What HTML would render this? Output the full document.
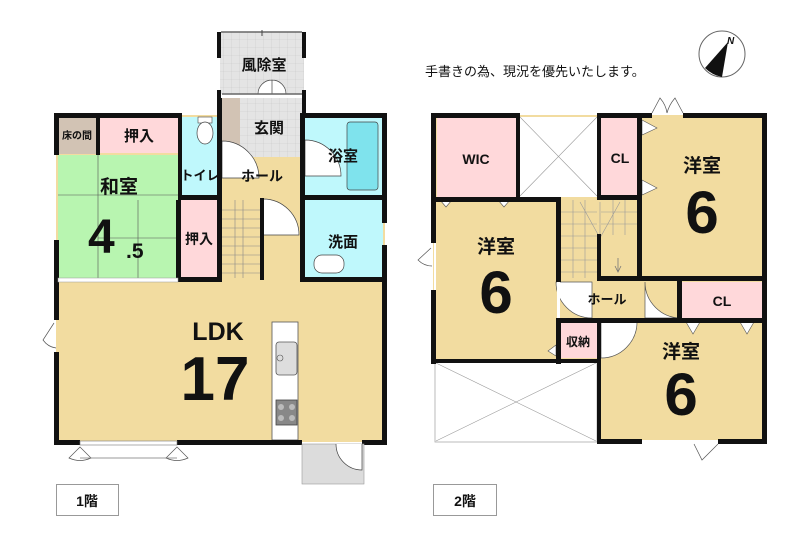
<!DOCTYPE html>
<html><head><meta charset="utf-8"><style>
html,body{margin:0;padding:0;background:#fff;}
svg{display:block;}
text{font-family:"Liberation Sans","Noto Sans CJK JP",sans-serif;font-weight:bold;fill:#111;}
</style></head><body>
<svg width="800" height="540" viewBox="0 0 800 540" xmlns="http://www.w3.org/2000/svg">
<defs>
<pattern id="grid" width="8" height="8" patternUnits="userSpaceOnUse">
<rect width="8" height="8" fill="#e4e4e4"/><path d="M8 0V8M0 8H8" stroke="#c8c8c8" stroke-width="0.6"/>
</pattern>
</defs>
<!-- ===== 1F ===== -->
<rect x="56" y="115" width="329" height="327" fill="#f2dca0"/>
<rect x="58" y="117" width="40" height="37" fill="#d2c3b4"/>
<rect x="100" y="117" width="78" height="36" fill="#ffd8da"/>
<rect x="58" y="155" width="120" height="124" fill="#b8f5b0"/>
<path d="M98 155V278M138 200V278M58 195H178M98 238H178" stroke="#555" stroke-width="0.6" fill="none"/>
<rect x="180" y="200" width="38" height="78" fill="#ffd8da"/>
<rect x="182" y="117" width="36" height="78" fill="#bff8fc"/>
<rect x="198" y="117" width="14" height="6" fill="#fff" stroke="#444" stroke-width="0.6"/>
<ellipse cx="205" cy="133" rx="8" ry="11" fill="#fff" stroke="#444" stroke-width="0.7"/>
<rect x="220" y="32" width="84" height="62" fill="url(#grid)"/>
<rect x="222" y="98" width="80" height="59" fill="url(#grid)"/>
<rect x="222" y="98" width="18" height="59" fill="#d2c3b4"/>
<rect x="222" y="157" width="80" height="40" fill="#f2dca0"/>
<path d="M222 141 A37 37 0 0 1 259 178 L222 178Z" fill="#fff" stroke="#444" stroke-width="0.7"/>
<path d="M272 94 V80 A14 14 0 0 0 258 94 M272 94 V80 A14 14 0 0 1 286 94" fill="#fff" stroke="#444" stroke-width="0.7"/>
<rect x="305" y="117" width="78" height="78" fill="#bff8fc"/>
<rect x="347" y="122" width="31" height="68" rx="3" fill="#7fe3ed" stroke="#444" stroke-width="0.7"/>
<path d="M305 140 A36 36 0 0 1 341 176 L305 176Z" fill="#fff" stroke="#444" stroke-width="0.7"/>
<rect x="305" y="200" width="78" height="78" fill="#bff8fc"/>
<rect x="314" y="255" width="30" height="18" rx="8" fill="#fff" stroke="#444" stroke-width="0.7"/>
<path d="M222 210H260M222 219H260M222 228H260M222 237H260M222 246H260M222 255H260M222 264H260M222 273H260M235 200V278M243 200V278" stroke="#888" stroke-width="0.6"/>
<path d="M263 199 A36 36 0 0 1 299 235 L263 235Z" fill="#fff" stroke="#444" stroke-width="0.7"/>
<rect x="272" y="322" width="26" height="118" fill="#fff" stroke="#555" stroke-width="0.8"/>
<rect x="276" y="342" width="21" height="33" rx="3" fill="#ddd" stroke="#555" stroke-width="0.8"/>
<circle cx="280" cy="358" r="3" fill="none" stroke="#555" stroke-width="0.6"/>
<rect x="276" y="400" width="21" height="25" fill="#888" stroke="#444" stroke-width="0.8"/>
<circle cx="281" cy="407" r="3" fill="#bbb"/><circle cx="292" cy="407" r="3" fill="#bbb"/><circle cx="281" cy="418" r="3" fill="#bbb"/><circle cx="292" cy="418" r="3" fill="#bbb"/>
<g fill="#111">
<rect x="56" y="113" width="126" height="5"/>
<rect x="300" y="113" width="87" height="5"/>
<rect x="54" y="113" width="5" height="42"/>
<rect x="54" y="240" width="5" height="80"/>
<rect x="54" y="352" width="5" height="92"/>
<rect x="382" y="113" width="5" height="110"/>
<rect x="382" y="245" width="5" height="199"/>
<rect x="54" y="440" width="26" height="5"/>
<rect x="177" y="440" width="125" height="5"/>
<rect x="362" y="440" width="25" height="5"/>
<rect x="96" y="115" width="4" height="40"/>
<rect x="178" y="113" width="4" height="87"/>
<rect x="178" y="195" width="44" height="5"/>
<rect x="176" y="200" width="5" height="80"/>
<rect x="217" y="98" width="5" height="182"/>
<rect x="217" y="32" width="4" height="26"/>
<rect x="217" y="90" width="4" height="10"/>
<rect x="302" y="32" width="4" height="26"/>
<rect x="302" y="90" width="4" height="27"/>
<rect x="300" y="113" width="5" height="84"/>
<rect x="300" y="195" width="87" height="5"/>
<rect x="300" y="195" width="5" height="85"/>
<rect x="260" y="198" width="4" height="82"/>
<rect x="217" y="195" width="5" height="85"/>
<rect x="176" y="277" width="46" height="5"/>
<rect x="300" y="277" width="87" height="5"/>
</g>
<rect x="58" y="278" width="120" height="4" fill="#fff" stroke="#999" stroke-width="0.5"/>
<path d="M222 94H302" stroke="#666" stroke-width="1.5"/>
<path d="M221 32H302" stroke="#666" stroke-width="1.5"/>
<path d="M262 30V36" stroke="#444"/>
<rect x="80" y="441" width="97" height="4" fill="#fff" stroke="#777" stroke-width="0.6"/>
<path d="M69 458 L80 447 L91 458 Q80 463 69 458Z" fill="#fff" stroke="#555" stroke-width="0.7"/>
<path d="M166 458 L177 447 L188 458 Q177 463 166 458Z" fill="#fff" stroke="#555" stroke-width="0.7"/>
<path d="M80 458 H177" stroke="#777" stroke-width="0.7"/>
<path d="M54 323 L43 340 Q48 347 56 348" fill="#fff" stroke="#555" stroke-width="0.7"/>
<rect x="302" y="444" width="62" height="40" fill="#dcdcdc" stroke="#999" stroke-width="0.6"/>
<path d="M336 444 A26 26 0 0 0 362 470 V444" fill="#fff" stroke="#444" stroke-width="0.7"/>
<text x="264" y="70" font-size="15" text-anchor="middle">風除室</text>
<text x="269" y="133" font-size="15" text-anchor="middle">玄関</text>
<text x="262" y="181" font-size="14" text-anchor="middle">ホール</text>
<text x="200" y="180" font-size="13" text-anchor="middle">トイレ</text>
<text x="343" y="161" font-size="15" text-anchor="middle">浴室</text>
<text x="343" y="247" font-size="15" text-anchor="middle">洗面</text>
<text x="77" y="139" font-size="10" text-anchor="middle">床の間</text>
<text x="139" y="141" font-size="15" text-anchor="middle">押入</text>
<text x="199" y="244" font-size="14" text-anchor="middle">押入</text>
<text x="119" y="193" font-size="19" text-anchor="middle">和室</text>
<text x="88" y="253" font-size="48">4</text>
<text x="126" y="258" font-size="21">.5</text>
<text x="218" y="340" font-size="25" text-anchor="middle">LDK</text>
<text x="215" y="400" font-size="62" text-anchor="middle">17</text>
<rect x="56.5" y="484.5" width="62" height="31" fill="#fff" stroke="#999"/>
<text x="87" y="506" font-size="14" text-anchor="middle">1階</text>

<!-- ===== 2F ===== -->
<rect x="433" y="115" width="332" height="247" fill="#f2dca0"/>
<rect x="597" y="318" width="168" height="124" fill="#f2dca0"/>
<rect x="437" y="118" width="80" height="80" fill="#ffd8da"/>
<rect x="520" y="117" width="78" height="80" fill="#fff"/>
<path d="M520 117 L597 196 M597 117 L520 196" stroke="#999" stroke-width="0.6"/>
<rect x="600" y="117" width="40" height="78" fill="#ffd8da"/>
<rect x="682" y="282" width="80" height="36" fill="#ffd8da"/>
<rect x="560" y="322" width="37" height="36" fill="#ffd8da"/>
<rect x="435" y="362" width="162" height="80" fill="#fff" stroke="#aaa" stroke-width="0.8"/>
<path d="M436 363 L596 441 M596 363 L436 441" stroke="#999" stroke-width="0.6"/>
<path d="M560 212H597M560 224H597M560 236H597M560 248H597M560 260H597M560 272H597M573 200V278M585 200V278M601 212H637M601 224H637M613 200V235M625 200V235M580 202 L600 238 M620 202 L600 238 M600 202V238" stroke="#999" stroke-width="0.6"/>
<path d="M618 258V272 M615 266 L618 272 L621 266" stroke="#777" stroke-width="0.8" fill="none"/>
<path d="M592 282 V318 A36 36 0 0 1 556 282Z" fill="#fff" stroke="#555" stroke-width="0.7"/>
<path d="M645 282 V318 H681 A36 36 0 0 1 645 282Z" fill="#fff" stroke="#555" stroke-width="0.7"/>
<path d="M601 322 V358 A36 36 0 0 0 637 322Z" fill="#fff" stroke="#555" stroke-width="0.7"/>
<path d="M556 345 L548 351 L556 356Z" fill="#fff" stroke="#555" stroke-width="0.6"/>
<path d="M642 120 L657 128 L642 135Z M642 180 L657 188 L642 195Z" fill="#fff" stroke="#555" stroke-width="0.6"/>
<path d="M440 200 L446 207 L452 200 M498 200 L504 207 L510 200" fill="#fff" stroke="#555" stroke-width="0.6"/>
<path d="M686 322 L693 334 L700 322 M740 322 L747 334 L754 322" fill="#fff" stroke="#555" stroke-width="0.6"/>
<g fill="#111">
<rect x="431" y="113" width="89" height="5"/>
<rect x="597" y="113" width="55" height="5"/>
<rect x="683" y="113" width="84" height="5"/>
<rect x="431" y="113" width="5" height="130"/>
<rect x="431" y="290" width="5" height="74"/>
<rect x="762" y="113" width="5" height="331"/>
<rect x="431" y="359" width="170" height="4"/>
<rect x="597" y="439" width="45" height="5"/>
<rect x="718" y="439" width="49" height="5"/>
<rect x="516" y="113" width="4" height="89"/>
<rect x="433" y="197" width="127" height="5"/>
<rect x="597" y="113" width="4" height="84"/>
<rect x="597" y="195" width="45" height="5"/>
<rect x="637" y="113" width="5" height="166"/>
<rect x="556" y="197" width="5" height="85"/>
<rect x="556" y="318" width="5" height="46"/>
<rect x="597" y="234" width="4" height="46"/>
<rect x="597" y="276" width="45" height="5"/>
<rect x="637" y="276" width="130" height="5"/>
<rect x="677" y="278" width="5" height="44"/>
<rect x="556" y="318" width="211" height="5"/>
<rect x="597" y="318" width="4" height="126"/>
</g>
<rect x="557" y="282" width="3" height="36" fill="#fff"/>
<rect x="434" y="243" width="2" height="47" fill="#fff"/>
<path d="M431 248 L418 260 Q424 266 432 266" fill="#fff" stroke="#555" stroke-width="0.7"/>
<path d="M652 113 L660 98 Q666 105 667 113 M683 113 L675 98 Q669 105 667 113" fill="#fff" stroke="#555" stroke-width="0.7"/>
<rect x="642" y="440" width="76" height="3" fill="#fff"/>
<path d="M694 444 L702 460 L718 444" fill="#fff" stroke="#555" stroke-width="0.7"/>
<text x="476" y="164" font-size="14" text-anchor="middle">WIC</text>
<text x="620" y="163" font-size="14" text-anchor="middle">CL</text>
<text x="702" y="172" font-size="19" text-anchor="middle">洋室</text>
<text x="702" y="233" font-size="60" text-anchor="middle">6</text>
<text x="496" y="253" font-size="19" text-anchor="middle">洋室</text>
<text x="496" y="313" font-size="60" text-anchor="middle">6</text>
<text x="607" y="304" font-size="13" text-anchor="middle">ホール</text>
<text x="722" y="306" font-size="14" text-anchor="middle">CL</text>
<text x="578" y="346" font-size="12" text-anchor="middle">収納</text>
<text x="681" y="358" font-size="19" text-anchor="middle">洋室</text>
<text x="681" y="415" font-size="60" text-anchor="middle">6</text>
<rect x="433.5" y="484.5" width="63" height="31" fill="#fff" stroke="#999"/>
<text x="465" y="506" font-size="14" text-anchor="middle">2階</text>

<text x="425" y="76" font-size="13" style="font-weight:normal">手書きの為、現況を優先いたします。</text>
<circle cx="722" cy="54" r="23" fill="#fff" stroke="#666" stroke-width="1"/>
<path d="M728 42 L705 68 Q712 75 722 77Z" fill="#111"/>
<text x="727" y="44" font-size="10" font-style="italic">N</text>
</svg>
</body></html>
